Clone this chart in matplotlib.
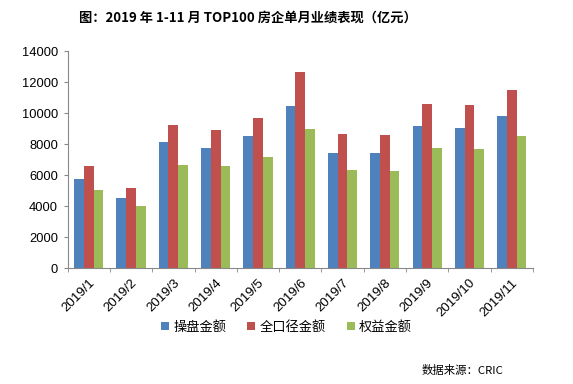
import matplotlib
matplotlib.use("Agg")
import matplotlib.pyplot as plt
import numpy as np

categories = ["2019/1", "2019/2", "2019/3", "2019/4", "2019/5", "2019/6",
              "2019/7", "2019/8", "2019/9", "2019/10", "2019/11"]
operate = [5780, 4540, 8150, 7760, 8540, 10470, 7440, 7440, 9180, 9050, 9830]
full = [6600, 5180, 9250, 8920, 9700, 12660, 8660, 8600, 10600, 10540, 11500]
equity = [5050, 4020, 6670, 6600, 7180, 8990, 6340, 6280, 7760, 7700, 8540]
series_names = ["操盘金额", "全口径金额", "权益金额"]
colors = ["#4F81BD", "#C0504D", "#9BBB59"]
yticks = [0, 2000, 4000, 6000, 8000, 10000, 12000, 14000]

plt.rcParams['font.family'] = ['Liberation Sans', 'Noto Sans CJK SC', 'DejaVu Sans']

fig = plt.figure(figsize=(5.73, 3.84), dpi=100)
ax = fig.add_axes([0.118, 0.301, 0.812, 0.565])

x = np.arange(len(categories))
w = 0.23
for i, (vals, c, n) in enumerate(zip([operate, full, equity], colors, series_names)):
    ax.bar(x + (i - 1) * w, vals, width=w, color=c, label=n)

ax.set_xlim(-0.5, len(categories) - 0.5)
ax.set_ylim(0, 14000)
ax.set_yticks(yticks)
ax.set_yticklabels([str(v) for v in yticks], fontsize=9.3)
ax.set_xticks(x)
ax.set_xticklabels(categories, rotation=45, ha='right', rotation_mode='anchor', fontsize=9.5)
ax.set_xticks(np.arange(-0.5, len(categories)), minor=True)
ax.tick_params(axis='x', which='major', length=0, pad=6)
ax.tick_params(axis='x', which='minor', length=3, color='#888888', direction='out')
ax.tick_params(axis='y', length=3, color='#888888', direction='out', pad=4)
for s in ['top', 'right']:
    ax.spines[s].set_visible(False)
for s in ['left', 'bottom']:
    ax.spines[s].set_color('#888888')
    ax.spines[s].set_linewidth(0.8)

leg = fig.legend(loc='center', bbox_to_anchor=(0.5, 0.148), ncol=3, frameon=False,
                 handlelength=0.6, handleheight=0.6, handletextpad=0.3,
                 columnspacing=1.6, prop={'family': ['Noto Sans CJK SC'], 'size': 9.5})

fig.text(0.433, 0.955, "图：2019 年 1-11 月 TOP100 房企单月业绩表现（亿元）",
         ha='center', va='center', fontsize=9.5, fontweight='bold',
         family=['Noto Sans CJK SC', 'DejaVu Sans'])
fig.text(0.878, 0.036, "数据来源：CRIC", ha='right', va='center', fontsize=8.2,
         family=['Noto Sans CJK SC', 'DejaVu Sans'])

fig.savefig("out.png", dpi=100)
